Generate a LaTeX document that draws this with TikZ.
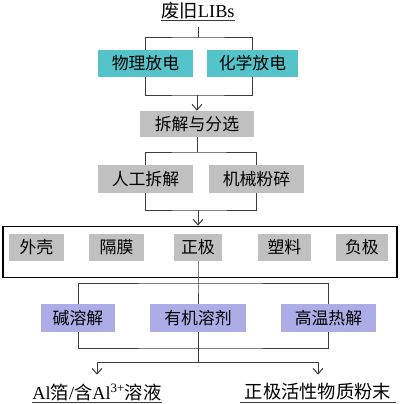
\documentclass[tikz,border=0pt]{standalone}
\usepackage{fontspec}
\setmainfont{Liberation Serif}
\newfontfamily\cjk{Noto Sans CJK SC}
\usetikzlibrary{arrows.meta}
\definecolor{sea}{RGB}{84,196,202}
\definecolor{ash}{RGB}{192,192,192}
\definecolor{lilac}{RGB}{172,172,230}
\definecolor{ink}{RGB}{60,60,60}

\begin{document}
\begin{tikzpicture}[x=0.025cm,y=-0.025cm,
  box/.style={inner sep=0pt,minimum height=0.675cm,font=\cjk\fontsize{12}{14}\selectfont},
  tag/.style={inner sep=0pt,minimum height=0.5cm,font=\fontsize{13}{15}\selectfont},
  wire/.style={ink,line width=0.7pt},
  arr/.style={wire,-{Straight Barb[length=4pt,width=7pt]}}]
\useasboundingbox (0,0) rectangle (400,404);

% source and discharge
\node[tag,minimum width=1.85cm,minimum height=0.45cm] (libs) at (198,11) {{\cjk 废旧}LIBs};
\draw[wire] (libs.south west) -- (libs.south east);
\node[box,fill=sea,minimum width=2.375cm] (phys) at (145.5,63.5) {物理放电};
\node[box,fill=sea,minimum width=2.275cm] (chem) at (252.5,63.5) {化学放电};
\coordinate (j1) at (198,37);
\coordinate (j2) at (197,95);
\draw[wire,shorten <=0.175cm] (libs.south) -- (j1);
\draw[wire] (phys.north) |- (j1) -| (chem.north);
\draw[wire] (phys.south) |- (j2) -| (chem.south);

% dismantling
\node[box,fill=ash,minimum width=2.85cm,minimum height=0.65cm] (split) at (197,124) {拆解与分选};
\draw[arr] (j2) -- (split.north);
\node[box,fill=ash,minimum width=2.375cm,minimum height=0.7cm] (manual) at (145.5,179) {人工拆解};
\node[box,fill=ash,minimum width=2.375cm,minimum height=0.7cm] (mech) at (256.5,179) {机械粉碎};
\coordinate (j3) at (197,152);
\coordinate (j4) at (198,210);
\draw[wire] (split.south) -- (j3);
\draw[wire] (manual.north) |- (j3) -| (mech.north);
\draw[wire] (manual.south) |- (j4) -| (mech.south);

% components
\node[draw=black,line width=1.2pt,minimum width=9.85cm,minimum height=1.275cm] (parts) at (200,252) {};
\draw[arr] (j4) -- (j4 |- parts.north);
\node[box,fill=ash,minimum width=1.375cm] (shell) at (36.5,247.5) {外壳};
\node[box,fill=ash,minimum width=1.375cm] (sep) at (116.5,247.5) {隔膜};
\node[box,fill=ash,minimum width=1.175cm] (cath) at (198,247.5) {正极};
\node[box,fill=ash,minimum width=1.325cm] (plast) at (284.5,247.5) {塑料};
\node[box,fill=ash,minimum width=1.3cm] (anod) at (362,247.5) {负极};

% cathode treatment
\node[box,fill=lilac,minimum width=1.85cm,minimum height=0.7cm] (alk) at (78,318) {碱溶解};
\node[box,fill=lilac,minimum width=2.375cm,minimum height=0.7cm] (org) at (198,318) {有机溶剂};
\node[box,fill=lilac,minimum width=2.375cm,minimum height=0.7cm] (pyro) at (328.5,318) {高温热解};
\coordinate (j5) at (198,283);
\coordinate (j6) at (198,348);
\coordinate (j7) at (198,362);
\draw[wire] (cath.south) -- (j5) -- (org.north);
\draw[wire] (alk.north) |- (j5) -| (pyro.north);
\draw[wire] (alk.south) |- (j6) -| (pyro.south);
\draw[wire] (org.south) -- (j7);

% products
\node[tag,minimum width=3.05cm] (foil) at (97,392) {Al{\cjk 箔}/{\cjk 含}Al\textsuperscript{3+}{\cjk 溶液}};
\node[tag,minimum width=3.9cm] (powder) at (318,392) {\cjk 正极活性物质粉末};
\draw[wire,line width=1pt] (foil.south west) -- (foil.south east);
\draw[wire,line width=1pt] (powder.south west) -- (powder.south east);
\draw[arr,shorten >=0.175cm] (j7) -| (foil.north);
\draw[arr,shorten >=0.175cm] (j7) -| (powder.north);
\end{tikzpicture}
\end{document}
